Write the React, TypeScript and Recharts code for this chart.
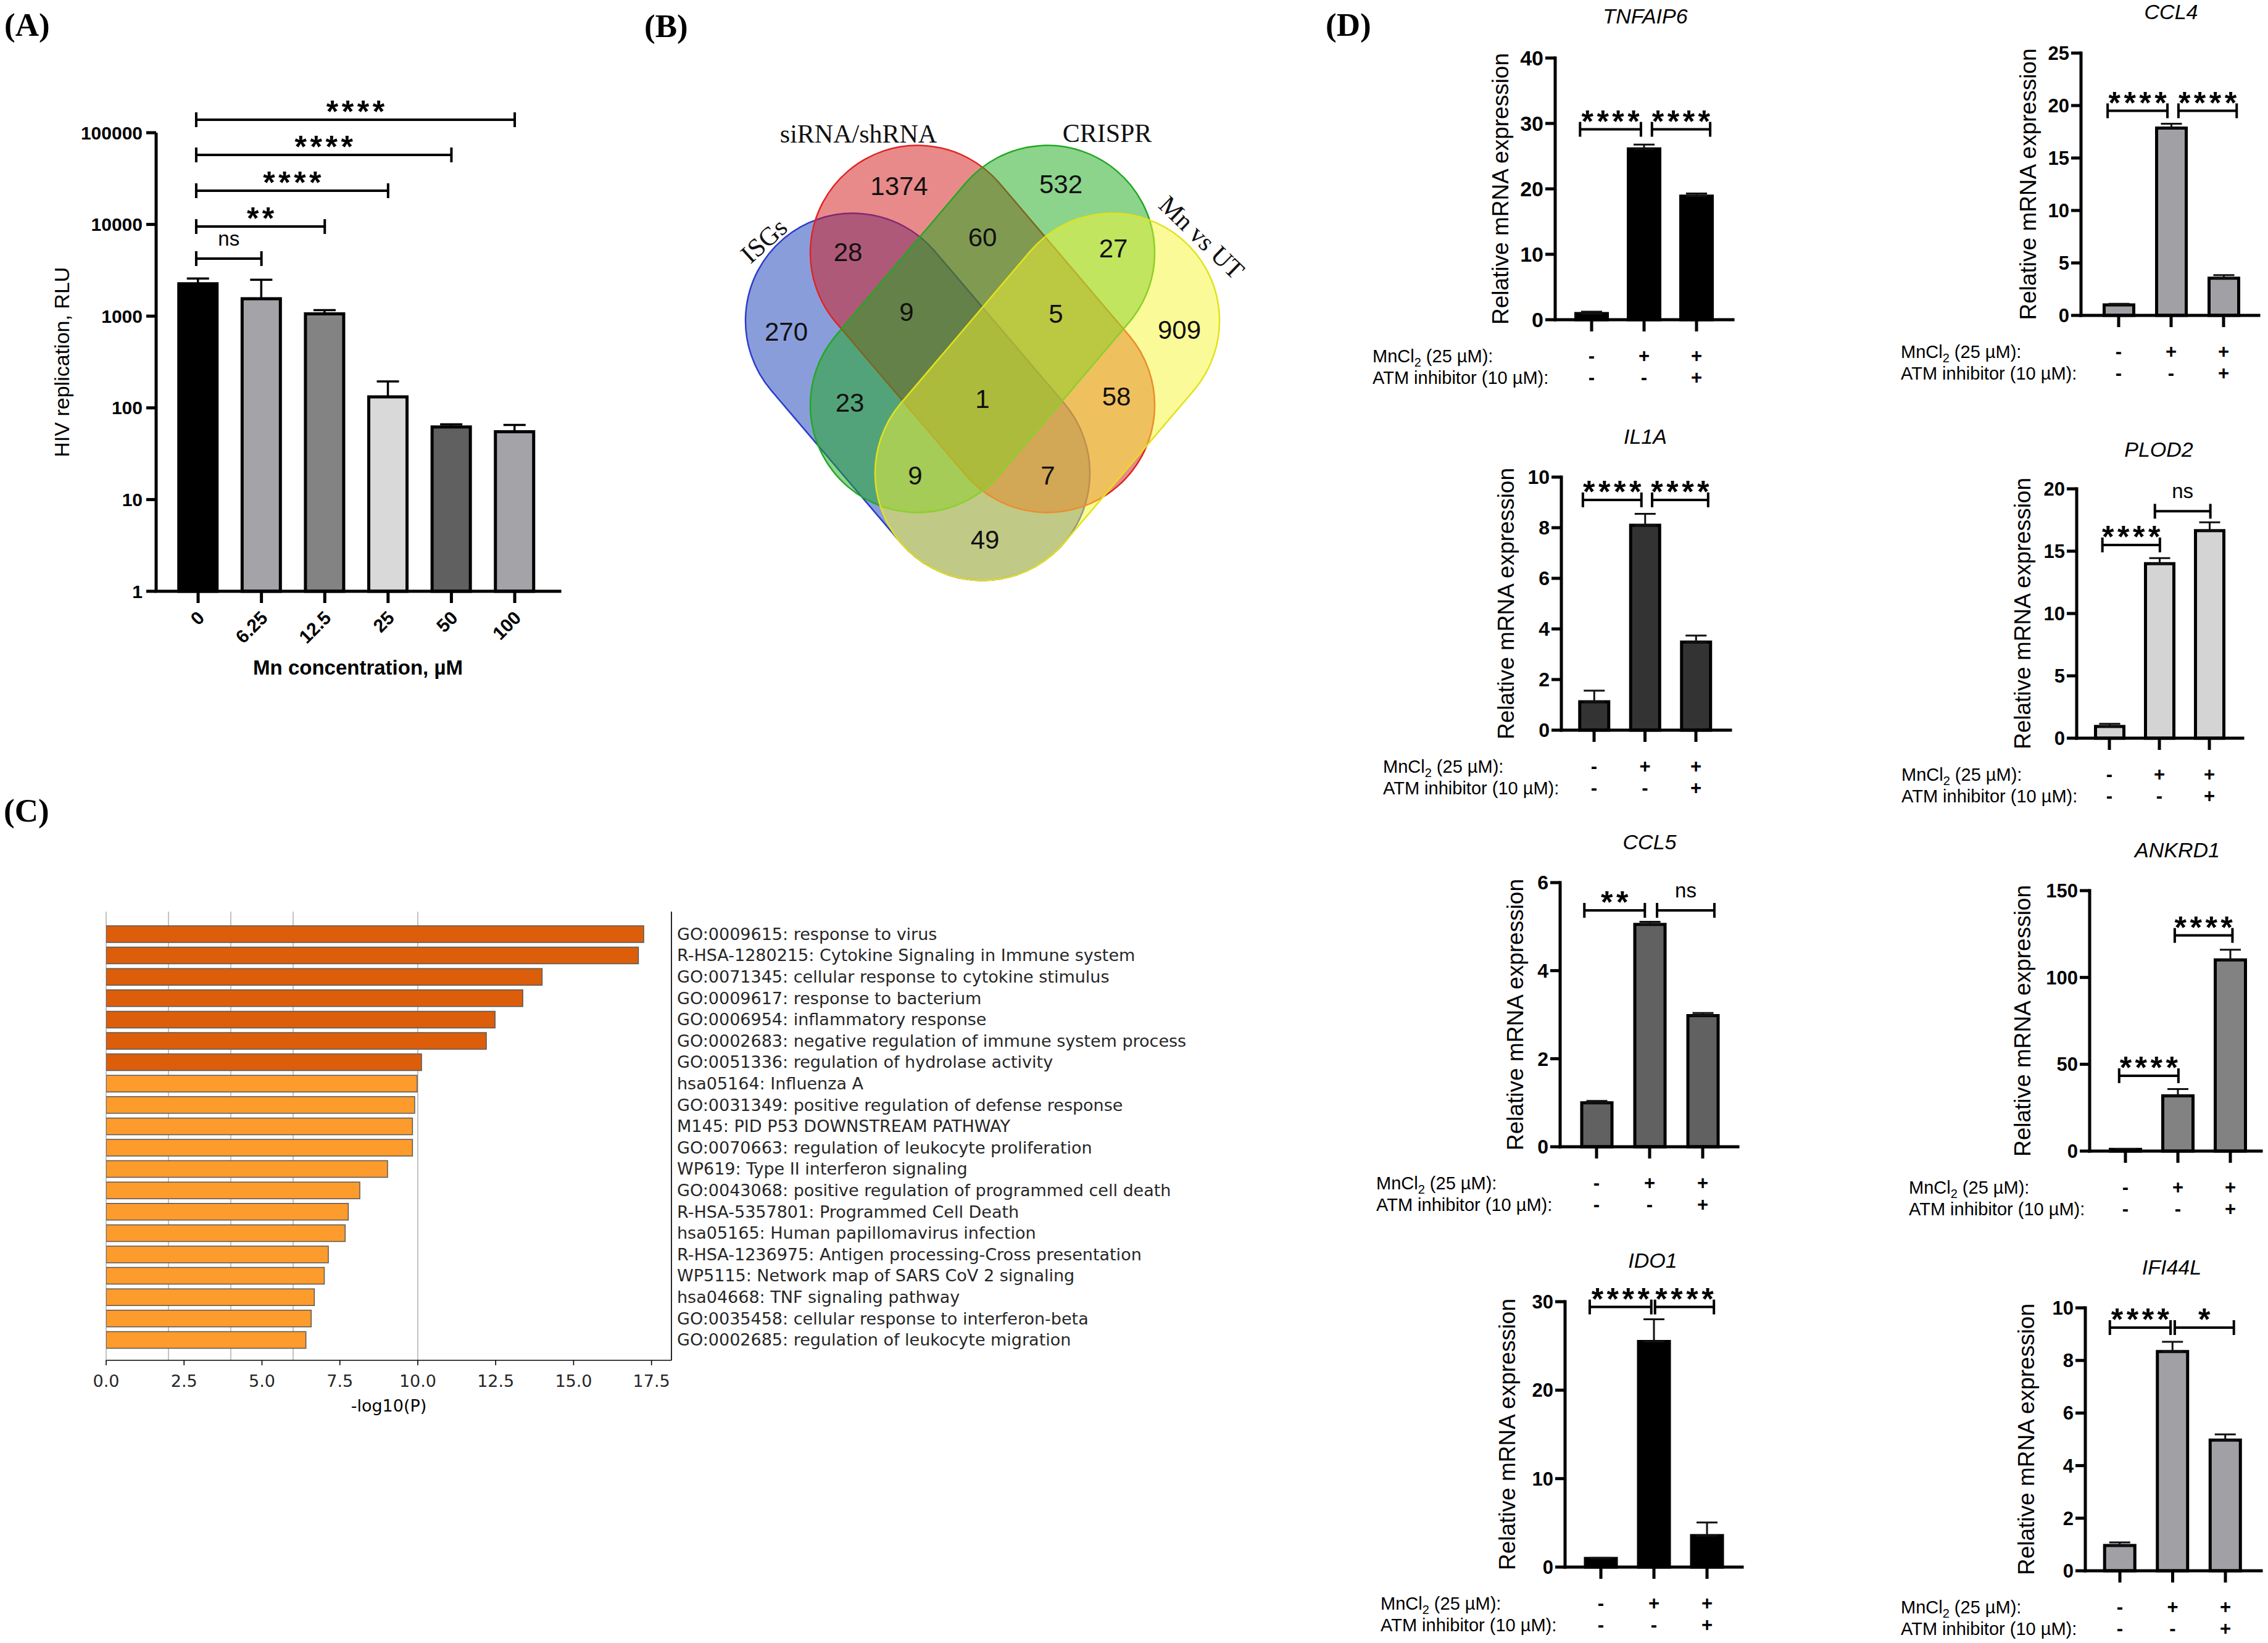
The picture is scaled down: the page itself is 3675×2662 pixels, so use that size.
import React from "react";
import {
  ComposedChart,
  BarChart,
  Bar,
  ErrorBar,
  XAxis,
  YAxis,
  ReferenceLine,
  Cell,
  ScatterChart,
  Scatter,
  CartesianGrid,
} from "recharts";

const SANS = '"Liberation Sans", Arial, Helvetica, sans-serif';
const SERIF = '"Liberation Serif", "Times New Roman", serif';
const MPL = '"DejaVu Sans", sans-serif';

// ---------- (A) HIV replication vs Mn ----------
const mnConc = ["0", "6.25", "12.5", "25", "50", "100"];
const hivRlu = [2250, 1550, 1060, 132, 62, 55];
const hivSem = [320, 940, 100, 62, 4, 10];
const hivFill = ["#000000", "#a3a3a8", "#838383", "#d9d9d9", "#606060", "#a3a3a8"];
const hivTicks = [1, 10, 100, 1000, 10000, 100000];
const hivSig = [
  { from: -0.03, to: 1, y: 4240, text: "ns" },
  { from: -0.03, to: 2, y: 9480, text: "**" },
  { from: -0.03, to: 3, y: 23300, text: "****" },
  { from: -0.03, to: 4, y: 57250, text: "****" },
  { from: -0.03, to: 5, y: 138400, text: "****" },
];

// ---------- (B) Venn (capsule shaped sets) ----------
const vennSets = ["ISGs", "siRNA/shRNA", "CRISPR", "Mn vs UT"];
const vennCx = [33.7, 44.2, 44.2, 54.7];
const vennCy = [49.3, 38.3, 38.3, 49.3];
const vennTilt = [49.6, 49.6, -49.6, -49.6];
const vennFill = ["#153bb7", "#d31515", "#19a919", "#f5f531"];
const vennEdge = ["#2a3ccc", "#e02424", "#22a822", "#e2e21c"];
const vennCounts = ["1374", "532", "28", "60", "27", "270", "9", "5", "909", "23", "1", "58", "9", "7", "49"];
const vennCountX = [30.7, 56.9, 22.4, 44.2, 65.4, 12.4, 31.9, 56.1, 76.1, 22.7, 44.2, 65.9, 33.3, 54.8, 44.6];
const vennCountY = [15.1, 14.8, 25.8, 23.4, 25.2, 38.7, 35.5, 35.8, 38.4, 50.2, 49.6, 49.2, 62.0, 62.0, 72.4];
const vennNameX = [8.8, 24.1, 64.4, 79.7];
const vennNameY = [24.0, 6.7, 6.6, 23.5];
const vennNameTilt = [-42, 0, 0, 44];

// ---------- (C) enrichment ----------
const enrichTerms = [
  "GO:0009615: response to virus",
  "R-HSA-1280215: Cytokine Signaling in Immune system",
  "GO:0071345: cellular response to cytokine stimulus",
  "GO:0009617: response to bacterium",
  "GO:0006954: inflammatory response",
  "GO:0002683: negative regulation of immune system process",
  "GO:0051336: regulation of hydrolase activity",
  "hsa05164: Influenza A",
  "GO:0031349: positive regulation of defense response",
  "M145: PID P53 DOWNSTREAM PATHWAY",
  "GO:0070663: regulation of leukocyte proliferation",
  "WP619: Type II interferon signaling",
  "GO:0043068: positive regulation of programmed cell death",
  "R-HSA-5357801: Programmed Cell Death",
  "hsa05165: Human papillomavirus infection",
  "R-HSA-1236975: Antigen processing-Cross presentation",
  "WP5115: Network map of SARS CoV 2 signaling",
  "hsa04668: TNF signaling pathway",
  "GO:0035458: cellular response to interferon-beta",
  "GO:0002685: regulation of leukocyte migration",
];
const enrichLogP = [17.25, 17.08, 13.99, 13.37, 12.48, 12.2, 10.12, 9.98, 9.9, 9.83, 9.83, 9.03, 8.14, 7.77, 7.67, 7.13, 7.0, 6.68, 6.58, 6.41];
const enrichTicks = [0, 2.5, 5, 7.5, 10, 12.5, 15, 17.5];
const enrichGrid = [2, 4, 6, 10];

// ---------- (D) qPCR ----------
const treatments = [0, 1, 2];
const mnclRow = ["-", "+", "+"];
const atmRow = ["-", "-", "+"];

type Sig = { from: number; to: number; y: number; text: string };

const tnfaip6Mean = [0.95, 26.1, 18.9];
const tnfaip6Sem = [0.28, 0.68, 0.4];
const tnfaip6Sig: Sig[] = [
  { from: -0.22, to: 0.94, y: 29.1, text: "****" },
  { from: 1.15, to: 2.26, y: 29.1, text: "****" },
];

const ccl4Mean = [1.0, 17.85, 3.54];
const ccl4Sem = [0.1, 0.42, 0.3];
const ccl4Sig: Sig[] = [
  { from: -0.21, to: 0.93, y: 19.5, text: "****" },
  { from: 1.14, to: 2.25, y: 19.5, text: "****" },
];

const il1aMean = [1.12, 8.1, 3.48];
const il1aSem = [0.44, 0.45, 0.26];
const il1aSig: Sig[] = [
  { from: -0.22, to: 0.93, y: 9.1, text: "****" },
  { from: 1.14, to: 2.24, y: 9.1, text: "****" },
];

const plod2Mean = [0.94, 14.0, 16.65];
const plod2Sem = [0.21, 0.44, 0.67];
const plod2Sig: Sig[] = [
  { from: -0.14, to: 1.01, y: 15.5, text: "****" },
  { from: 0.91, to: 2.02, y: 18.2, text: "ns" },
];

const ccl5Mean = [1.0, 5.05, 2.98];
const ccl5Sem = [0.04, 0.06, 0.06];
const ccl5Sig: Sig[] = [
  { from: -0.23, to: 0.91, y: 5.37, text: "**" },
  { from: 1.14, to: 2.22, y: 5.37, text: "ns" },
];

const ankrd1Mean = [1.0, 31.8, 110.1];
const ankrd1Sem = [0.2, 3.9, 5.9];
const ankrd1Sig: Sig[] = [
  { from: -0.12, to: 1.01, y: 43.4, text: "****" },
  { from: 0.94, to: 2.04, y: 124.2, text: "****" },
];

const ido1Mean = [0.98, 25.5, 3.56];
const ido1Sem = [0.05, 2.52, 1.48];
const ido1Sig: Sig[] = [
  { from: -0.21, to: 0.95, y: 29.4, text: "****" },
  { from: 1.02, to: 2.13, y: 29.4, text: "****" },
];

const ifi44lMean = [0.96, 8.34, 4.97];
const ifi44lSem = [0.12, 0.37, 0.22];
const ifi44lSig: Sig[] = [
  { from: -0.19, to: 0.96, y: 9.25, text: "****" },
  { from: 1.04, to: 2.16, y: 9.25, text: "*" },
];

type ExprSpec = {
  gene: string;
  mean: number[];
  sem: number[];
  sig: Sig[];
  yMax: number;
  yTicks: number[];
  fill: string;
  axisX: number;
  yTop: number;
  y0: number;
  xEnd: number;
  c0: number;
  c2: number;
  labelX: number;
  rowLeft: number;
  barW: number;
  titleX: number;
  titleY: number;
  tickFont: number;
};

const exprPanels: ExprSpec[] = [
  { gene: "TNFAIP6", mean: tnfaip6Mean, sem: tnfaip6Sem, sig: tnfaip6Sig, yMax: 40, yTicks: [0, 10, 20, 30, 40], fill: "#000000",
    axisX: 2520, yTop: 94, y0: 518, xEnd: 2808, c0: 2579, c2: 2749, labelX: 2431, rowLeft: 2224, barW: 56, titleX: 2666, titleY: 26, tickFont: 34 },
  { gene: "CCL4", mean: ccl4Mean, sem: ccl4Sem, sig: ccl4Sig, yMax: 25, yTicks: [0, 5, 10, 15, 20, 25], fill: "#a0a0a5",
    axisX: 3372, yTop: 86, y0: 511, xEnd: 3660, c0: 3433, c2: 3603, labelX: 3286, rowLeft: 3080, barW: 53, titleX: 3518, titleY: 19, tickFont: 31 },
  { gene: "IL1A", mean: il1aMean, sem: il1aSem, sig: il1aSig, yMax: 10, yTicks: [0, 2, 4, 6, 8, 10], fill: "#333333",
    axisX: 2530, yTop: 773, y0: 1183, xEnd: 2804, c0: 2583, c2: 2748, labelX: 2440, rowLeft: 2241, barW: 52, titleX: 2666, titleY: 707, tickFont: 32 },
  { gene: "PLOD2", mean: plod2Mean, sem: plod2Sem, sig: plod2Sig, yMax: 20, yTicks: [0, 5, 10, 15, 20], fill: "#d4d4d4",
    axisX: 3365, yTop: 792, y0: 1196, xEnd: 3634, c0: 3418, c2: 3580, labelX: 3277, rowLeft: 3081, barW: 51, titleX: 3498, titleY: 728, tickFont: 31 },
  { gene: "CCL5", mean: ccl5Mean, sem: ccl5Sem, sig: ccl5Sig, yMax: 6, yTicks: [0, 2, 4, 6], fill: "#616161",
    axisX: 2528, yTop: 1430, y0: 1858, xEnd: 2816, c0: 2587, c2: 2759, labelX: 2455, rowLeft: 2230, barW: 54, titleX: 2673, titleY: 1364, tickFont: 32 },
  { gene: "ANKRD1", mean: ankrd1Mean, sem: ankrd1Sem, sig: ankrd1Sig, yMax: 150, yTicks: [0, 50, 100, 150], fill: "#828282",
    axisX: 3386, yTop: 1443, y0: 1865, xEnd: 3664, c0: 3444, c2: 3614, labelX: 3277, rowLeft: 3093, barW: 54, titleX: 3528, titleY: 1377, tickFont: 31 },
  { gene: "IDO1", mean: ido1Mean, sem: ido1Sem, sig: ido1Sig, yMax: 30, yTicks: [0, 10, 20, 30], fill: "#000000",
    axisX: 2536, yTop: 2109, y0: 2539, xEnd: 2823, c0: 2594, c2: 2766, labelX: 2442, rowLeft: 2237, barW: 55, titleX: 2678, titleY: 2042, tickFont: 31 },
  { gene: "IFI44L", mean: ifi44lMean, sem: ifi44lSem, sig: ifi44lSig, yMax: 10, yTicks: [0, 2, 4, 6, 8, 10], fill: "#a0a0a5",
    axisX: 3379, yTop: 2119, y0: 2545, xEnd: 3664, c0: 3435, c2: 3606, labelX: 3283, rowLeft: 3080, barW: 54, titleX: 3519, titleY: 2053, tickFont: 31 },
];

const AXIS = { stroke: "#000", strokeWidth: 5, strokeLinecap: "square" as const };
const TICK = { stroke: "#000", strokeWidth: 5 };
const FRAME = { stroke: "#000", strokeWidth: 1.6 };

// rotated y axis title, placed `dist` px left of the axis line
const yTitle = (text: string, dist: number, size: number, shift = 0) => (props: any) => {
  const vb = props.viewBox || { x: 0, y: 0, width: 0, height: 0 };
  const cx = vb.x + vb.width - dist;
  const cy = vb.y + vb.height / 2 + shift;
  return (
    <text x={cx} y={cy} dy="0.36em" transform={`rotate(-90 ${cx} ${cy})`} textAnchor="middle"
      fontSize={size} fontFamily={SANS} fill="#000">
      {text}
    </text>
  );
};

const xTitle = (text: string, off: number, size: number, weight: string, family: string) => (props: any) => {
  const vb = props.viewBox || { x: 0, y: 0, width: 0, height: 0 };
  const cx = vb.x + vb.width / 2;
  const cy = vb.y + off;
  return (
    <text x={cx} y={cy} dy="0.36em" textAnchor="middle" fontSize={size} fontWeight={weight} fontFamily={family} fill="#000">
      {text}
    </text>
  );
};

// stars / ns above a bracket line
const sigText = (text: string) => (props: any) => {
  const vb = props.viewBox || { x: 0, y: 0, width: 0, height: 0 };
  const cx = vb.x + vb.width / 2;
  if (text.includes("*")) {
    return (
      <text x={cx + 2.75} y={vb.y + 4} textAnchor="middle" fontSize={50} fontWeight={700} letterSpacing={5.5}
        fontFamily={SANS} fill="#000">
        {text}
      </text>
    );
  }
  return (
    <text x={cx} y={vb.y - 21} textAnchor="middle" fontSize={33} fontFamily={SANS} fill="#000">
      {text}
    </text>
  );
};

function bracket(s: Sig, key: string, lo: number, hi: number) {
  return [
    <ReferenceLine key={`${key}h`} segment={[{ x: s.from, y: s.y }, { x: s.to, y: s.y }]} stroke="#000"
      strokeWidth={4} ifOverflow="visible" label={sigText(s.text)} />,
    <ReferenceLine key={`${key}l`} segment={[{ x: s.from, y: lo }, { x: s.from, y: hi }]} stroke="#000"
      strokeWidth={4} ifOverflow="visible" />,
    <ReferenceLine key={`${key}r`} segment={[{ x: s.to, y: lo }, { x: s.to, y: hi }]} stroke="#000"
      strokeWidth={4} ifOverflow="visible" />,
  ];
}

function PanelLetter({ text, left, cy }: { text: string; left: number; cy: number }) {
  return (
    <div style={{ position: "absolute", left, top: cy - 31, fontFamily: SERIF, fontWeight: "bold", fontSize: 53,
      lineHeight: "53px", color: "#000", whiteSpace: "nowrap" }}>
      {text}
    </div>
  );
}

const HivTick = ({ x, y, payload }: any) => {
  const tx = x + 12;
  const ty = y + 26;
  return (
    <text x={tx} y={ty} transform={`rotate(-45 ${tx} ${ty})`} textAnchor="end" fontSize={30} fontWeight={700}
      fontFamily={SANS} fill="#000">
      {mnConc[Math.round(payload.value)]}
    </text>
  );
};

function HivChart() {
  const data = mnConc.map((c, i) => ({ x: i, rlu: hivRlu[i], err: [0, hivSem[i]] }));
  const xMin = -0.663;
  const f = Math.pow(10, 12 / 148.6);
  return (
    <ComposedChart width={887} height={998} data={data} margin={{ top: 65.28, right: 20, bottom: 0, left: 23 }}>
      <XAxis type="number" dataKey="x" domain={[xMin, 5.711]} ticks={[0, 1, 2, 3, 4, 5]} interval={0} height={160}
        tickSize={19} tickMargin={0} axisLine={AXIS} tickLine={TICK} tick={<HivTick />}
        label={xTitle("Mn concentration, µM", 123, 33, "bold", SANS)} />
      <YAxis type="number" scale="log" domain={[1, Math.pow(10, 5.2)]} ticks={hivTicks} interval={0} width={190}
        tickSize={16} tickMargin={6} axisLine={false} tickLine={TICK} tickFormatter={(v) => String(v)}
        tick={{ fontSize: 30, fontWeight: 700, fontFamily: SANS, fill: "#000" }}
        label={yTitle("HIV replication, RLU", 153, 34, 15)} />
      <ReferenceLine segment={[{ x: xMin, y: 1 }, { x: xMin, y: 100000 }]} stroke="#000" strokeWidth={5}
        ifOverflow="visible" />
      <Bar dataKey="rlu" barSize={62} stroke="#000" strokeWidth={5} isAnimationActive={false}>
        {data.map((d, i) => (
          <Cell key={i} fill={hivFill[i]} />
        ))}
        <ErrorBar dataKey="err" direction="y" width={18} stroke="#000" strokeWidth={3.5} />
      </Bar>
      {hivSig.flatMap((s, i) => bracket(s, `a${i}`, s.y / f, s.y * f))}
    </ComposedChart>
  );
}

// capsule: half distance between cap centres and cap radius, in venn units
const VENN_PX = 10;
const CAP_HALF = 16.2;
const CAP_R = 17.4;

const CapsuleShape = (props: any) => {
  const { cx, cy, payload } = props;
  const h = CAP_HALF * VENN_PX;
  const r = CAP_R * VENN_PX;
  const d = `M ${-h} ${-r} L ${h} ${-r} A ${r} ${r} 0 0 1 ${h} ${r} L ${-h} ${r} A ${r} ${r} 0 0 1 ${-h} ${-r} Z`;
  return (
    <path d={d} transform={`translate(${cx} ${cy}) rotate(${payload.tilt})`} fill={payload.fill} fillOpacity={0.5}
      stroke={payload.edge} strokeWidth={2.5} />
  );
};

const CountShape = (props: any) => {
  const { cx, cy, payload } = props;
  return (
    <text x={cx} y={cy} dy="0.36em" textAnchor="middle" fontSize={42} fontFamily={SANS} fill="#111">
      {payload.label}
    </text>
  );
};

const NameShape = (props: any) => {
  const { cx, cy, payload } = props;
  return (
    <text x={cx} y={cy} dy="0.33em" textAnchor="middle" fontSize={42} fontFamily={SERIF} fill="#111"
      transform={`rotate(${payload.tilt} ${cx} ${cy})`}>
      {payload.label}
    </text>
  );
};

function VennChart() {
  const sets = vennSets.map((s, i) => ({ x: vennCx[i], y: vennCy[i], tilt: vennTilt[i], fill: vennFill[i], edge: vennEdge[i] }));
  const counts = vennCounts.map((c, i) => ({ x: vennCountX[i], y: vennCountY[i], label: c }));
  const names = vennSets.map((s, i) => ({ x: vennNameX[i], y: vennNameY[i], label: s, tilt: vennNameTilt[i] }));
  return (
    <ScatterChart width={900} height={810} margin={{ top: 0, right: 0, bottom: 0, left: 0 }}>
      <XAxis type="number" dataKey="x" domain={[0, 90]} hide />
      <YAxis type="number" dataKey="y" domain={[0, 81]} reversed hide />
      <Scatter data={sets} shape={CapsuleShape} isAnimationActive={false} />
      <Scatter data={counts} shape={CountShape} isAnimationActive={false} />
      <Scatter data={names} shape={NameShape} isAnimationActive={false} />
    </ScatterChart>
  );
}

const C_MAX = 18.14;

function EnrichChart() {
  const data = enrichTerms.map((t, i) => ({ term: t, logp: enrichLogP[i] }));
  return (
    <BarChart layout="vertical" width={1898} height={897} data={data} margin={{ top: 20, right: 10, bottom: 4, left: 72 }}>
      <CartesianGrid xAxisId="grid" horizontal={false} stroke="#b4b4b4" strokeWidth={1.6} />
      <XAxis type="number" domain={[0, C_MAX]} ticks={enrichTicks} interval={0} tickFormatter={(v) => Number(v).toFixed(1)}
        height={146} tickSize={8} tickMargin={16} axisLine={FRAME} tickLine={FRAME} allowDataOverflow
        tick={{ fontSize: 27, fontFamily: MPL, fill: "#262626" }} label={xTitle("-log10(P)", 73, 27, "normal", MPL)} />
      <XAxis xAxisId="grid" type="number" domain={[0, C_MAX]} ticks={enrichGrid} allowDataOverflow hide />
      <XAxis xAxisId="top" orientation="top" type="number" domain={[0, C_MAX]} height={0} tick={false} tickLine={false}
        axisLine={FRAME} />
      <YAxis type="category" dataKey="term" orientation="right" width={900} interval={0} tickLine={false} tickSize={0}
        tickMargin={9} axisLine={FRAME} padding={{ top: 19, bottom: 16 }}
        tick={{ fontSize: 27, fontFamily: MPL, fill: "#262626" }} />
      <YAxis yAxisId="frameL" orientation="left" type="number" domain={[0, 1]} width={0} tick={false} tickLine={false}
        axisLine={FRAME} />
      <Bar dataKey="logp" barSize={27} stroke="#5a5a5a" strokeWidth={1.5} isAnimationActive={false}>
        {data.map((d, i) => (
          <Cell key={i} fill={d.logp > 10 ? "#dc5e0b" : "#fd9b2c"} />
        ))}
      </Bar>
    </BarChart>
  );
}

const CondTick = ({ x, y, payload, shift }: any) => {
  const i = Math.round(payload.value);
  return (
    <g>
      {i === 0 && (
        <g>
          <text x={x - shift} y={y + 40} dy="0.36em" fontSize={29} fontFamily={SANS} fill="#000">
            MnCl<tspan fontSize={20} dy={7}>2</tspan>
            <tspan dy={-7}> (25 µM):</tspan>
          </text>
          <text x={x - shift} y={y + 75} dy="0.36em" fontSize={29} fontFamily={SANS} fill="#000">
            ATM inhibitor (10 µM):
          </text>
        </g>
      )}
      <text x={x} y={y + 40} dy="0.33em" textAnchor="middle" fontSize={31} fontWeight={700} fontFamily={SANS} fill="#000">
        {mnclRow[i]}
      </text>
      <text x={x} y={y + 75} dy="0.33em" textAnchor="middle" fontSize={31} fontWeight={700} fontFamily={SANS} fill="#000">
        {atmRow[i]}
      </text>
    </g>
  );
};

function ExprPanel({ p }: { p: ExprSpec }) {
  const top = 70;
  const xh = 110;
  const chartLeft = p.rowLeft - 10;
  const plotH = p.y0 - p.yTop;
  const yw = p.axisX - p.labelX + 30;
  const marginLeft = p.axisX - yw - chartLeft;
  const width = p.xEnd + 8 - chartLeft;
  const height = top + plotH + xh;
  const u = (p.c2 - p.c0) / 2;
  const xDom = [(p.axisX - p.c0) / u, (p.xEnd - p.c0) / u];
  const tickH = (12 * p.yMax) / plotH;
  const data = treatments.map((t, i) => ({ x: t, mean: p.mean[i], err: [0, p.sem[i]] }));
  return (
    <>
      <div style={{ position: "absolute", left: p.titleX - 200, width: 400, top: p.titleY - 17, textAlign: "center",
        fontFamily: SANS, fontStyle: "italic", fontSize: 34, lineHeight: "34px", color: "#000" }}>
        {p.gene}
      </div>
      <div style={{ position: "absolute", left: chartLeft, top: p.yTop - top }}>
        <ComposedChart width={width} height={height} data={data} margin={{ top, right: 8, bottom: 0, left: marginLeft }}>
          <XAxis type="number" dataKey="x" domain={xDom} ticks={treatments} interval={0} height={xh} tickSize={19}
            tickMargin={0} axisLine={AXIS} tickLine={TICK} tick={<CondTick shift={p.c0 - p.rowLeft} />} />
          <YAxis type="number" domain={[0, p.yMax]} ticks={p.yTicks} interval={0} width={yw} tickSize={16} tickMargin={3}
            axisLine={AXIS} tickLine={TICK} tick={{ fontSize: p.tickFont, fontWeight: 700, fontFamily: SANS, fill: "#000" }}
            label={yTitle("Relative mRNA expression", p.axisX - p.labelX, 37)} />
          <Bar dataKey="mean" barSize={p.barW - 5} fill={p.fill} stroke="#000" strokeWidth={5} isAnimationActive={false}>
            <ErrorBar dataKey="err" direction="y" width={17} stroke="#111" strokeWidth={3} />
          </Bar>
          {p.sig.flatMap((s, i) => bracket(s, `${p.gene}${i}`, s.y - tickH, s.y + tickH))}
        </ComposedChart>
      </div>
    </>
  );
}

export default function App() {
  return (
    <div style={{ position: "absolute", left: 0, top: 0, width: 3675, height: 2662, background: "#fff", overflow: "hidden" }}>
      <PanelLetter text="(A)" left={7} cy={45} />
      <PanelLetter text="(B)" left={1044} cy={47} />
      <PanelLetter text="(C)" left={6} cy={1318} />
      <PanelLetter text="(D)" left={2148} cy={45} />
      <div style={{ position: "absolute", left: 40, top: 120 }}>
        <HivChart />
      </div>
      <div style={{ position: "absolute", left: 1150, top: 150 }}>
        <VennChart />
      </div>
      <div style={{ position: "absolute", left: 100, top: 1457 }}>
        <EnrichChart />
      </div>
      {exprPanels.map((p) => (
        <ExprPanel key={p.gene} p={p} />
      ))}
    </div>
  );
}
